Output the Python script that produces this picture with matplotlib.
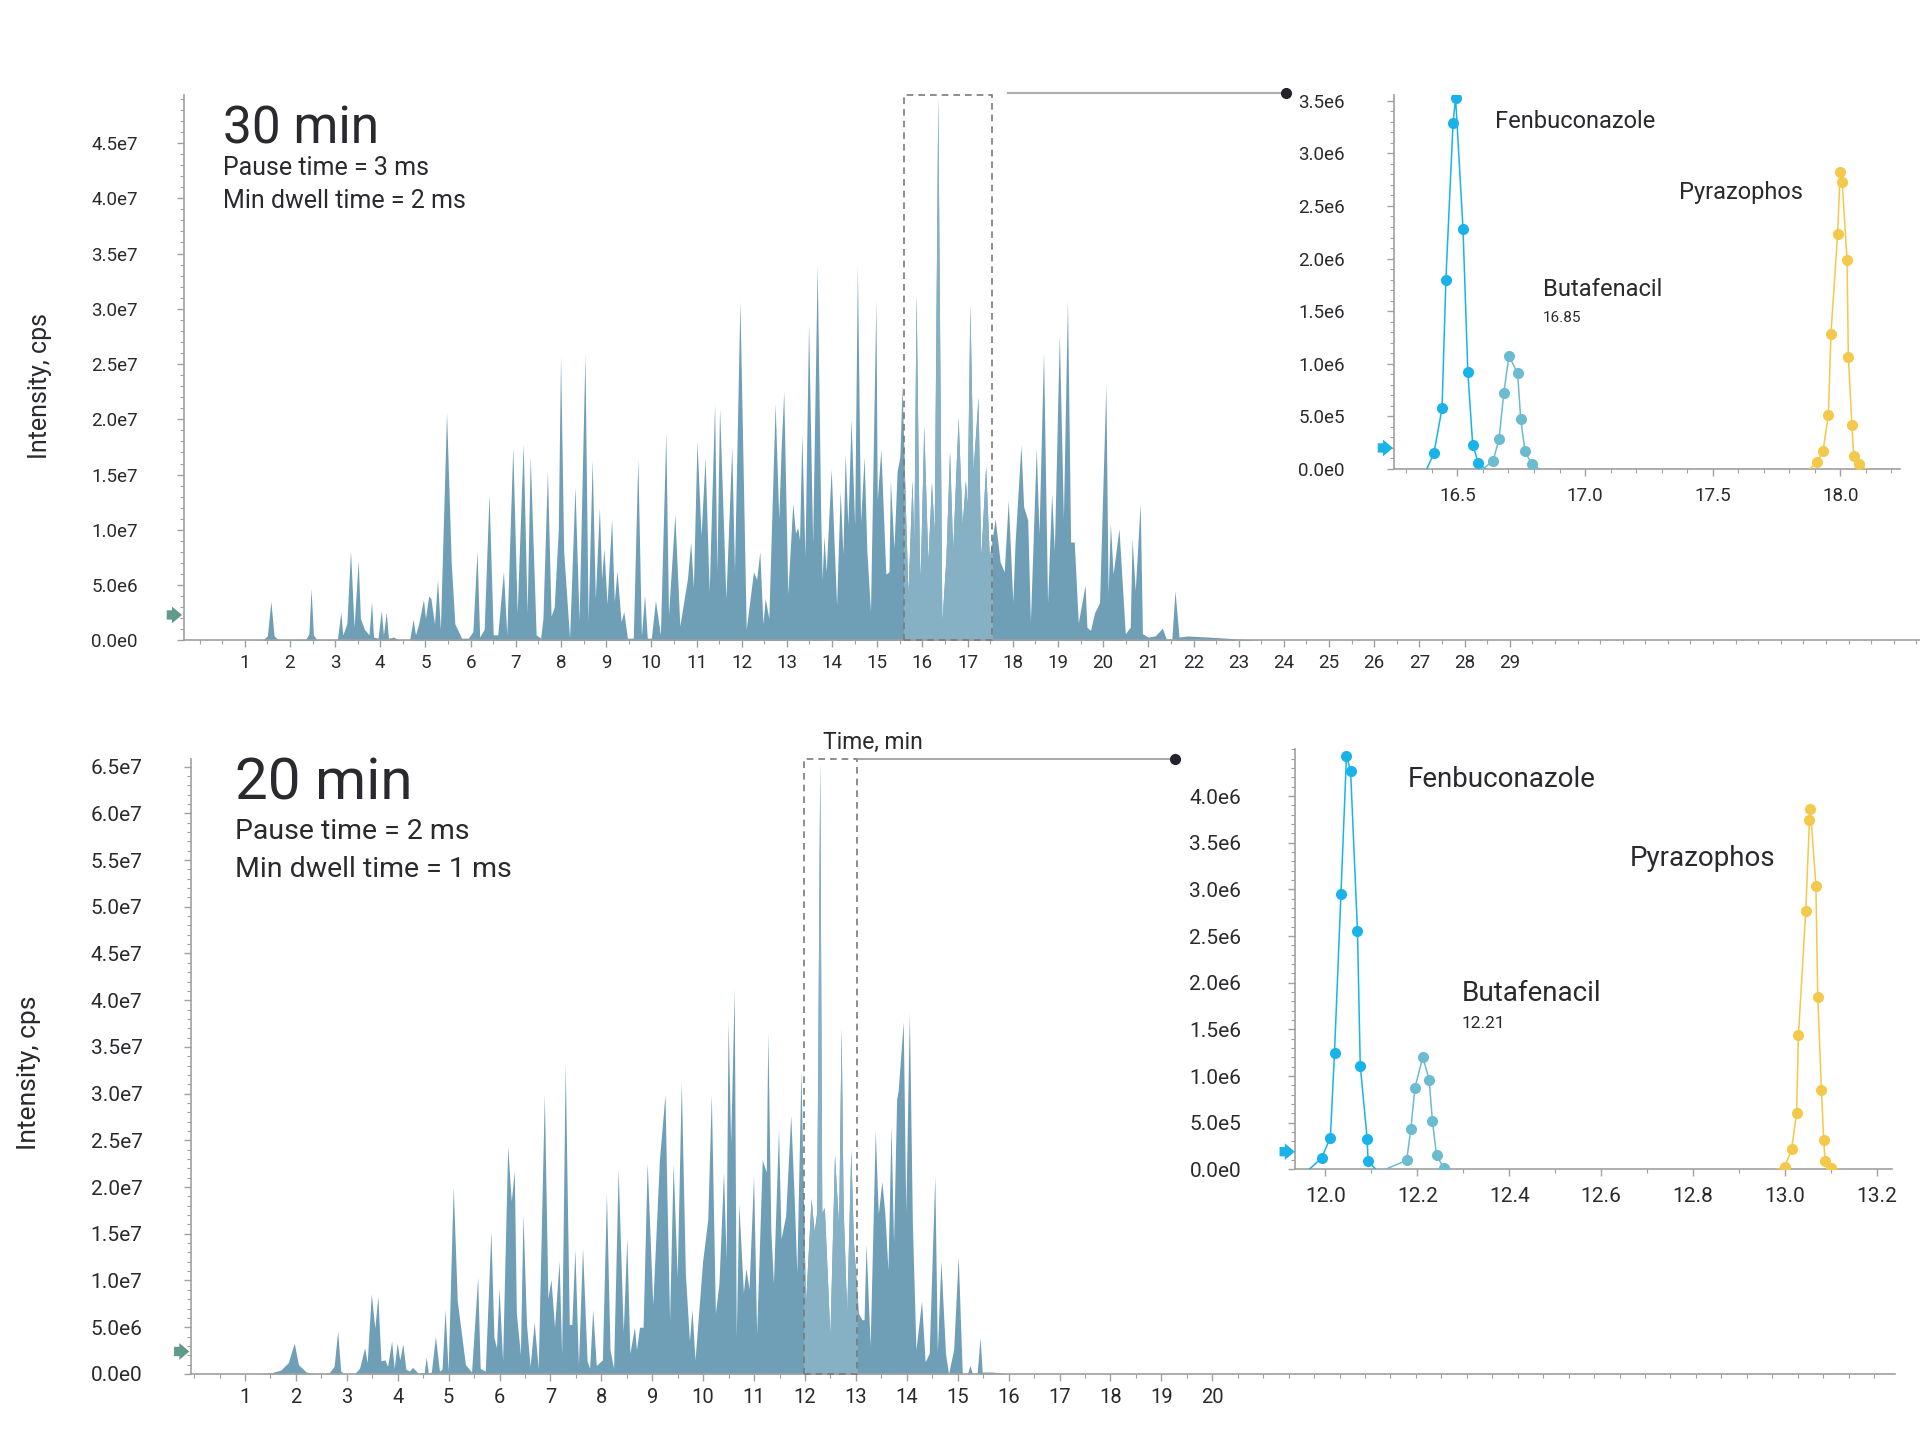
import math
import matplotlib
matplotlib.use("Agg")
import matplotlib.pyplot as plt
from matplotlib.ticker import FuncFormatter, MultipleLocator, AutoMinorLocator
from matplotlib.patches import Rectangle

# ---------------- data (intensity of main traces in units of 1e7 cps) ----------------
top_t = [-0.3, 1.0, 1.4, 1.5, 1.578, 1.65, 1.75, 2.35, 2.42, 2.467, 2.52, 2.6, 3.05, 3.126, 3.17, 3.26,
         3.341, 3.42, 3.511, 3.56, 3.65, 3.75, 3.807, 3.85, 3.95, 4.022, 4.07, 4.133, 4.18, 4.296, 4.4,
         4.65, 4.726, 4.78, 4.85, 4.956, 5.0, 5.07, 5.12, 5.2, 5.267, 5.33, 5.467, 5.57, 5.65, 5.8, 5.95,
         6.05, 6.141, 6.2, 6.3, 6.407, 6.5, 6.6, 6.726, 6.8, 6.933, 7.03, 7.163, 7.25, 7.319, 7.45, 7.55,
         7.6, 7.70, 7.78, 7.85, 7.94, 7.99, 8.06, 8.19, 8.31, 8.40, 8.53, 8.6, 8.69, 8.76, 8.85, 8.90,
         8.95, 9.02, 9.12, 9.18, 9.24, 9.33, 9.39, 9.47, 9.6, 9.70, 9.78, 9.85, 9.91, 10.0, 10.09, 10.2,
         10.32, 10.38, 10.52, 10.63, 10.80, 10.87, 10.93, 11.01, 11.10, 11.19, 11.28, 11.40, 11.45, 11.51,
         11.65, 11.78, 11.84, 11.96, 12.1, 12.26, 12.33, 12.40, 12.47, 12.52, 12.60, 12.74, 12.82, 12.87,
         12.93, 13.02, 13.13, 13.19, 13.24, 13.28, 13.33, 13.40, 13.48, 13.57, 13.67, 13.75, 13.78, 13.82,
         13.87, 13.98, 14.10, 14.18, 14.24, 14.29, 14.35, 14.42, 14.50, 14.56, 14.63, 14.71, 14.77, 14.85,
         14.97, 15.0, 15.08, 15.19, 15.26, 15.29, 15.37, 15.44, 15.50, 15.55, 15.62, 15.68, 15.77, 15.81,
         15.86, 15.93, 15.95, 16.03, 16.12, 16.20, 16.26, 16.34, 16.43, 16.52, 16.60, 16.67, 16.79, 16.88,
         16.95, 16.99, 17.05, 17.12, 17.23, 17.29, 17.40, 17.48, 17.61, 17.72, 17.81, 17.90, 18.00, 18.05,
         18.18, 18.24, 18.33, 18.39, 18.52, 18.58, 18.68, 18.77, 18.86, 18.92, 19.03, 19.12, 19.21, 19.28,
         19.36, 19.45, 19.60, 19.64, 19.72, 19.81, 19.92, 20.06, 20.11, 20.16, 20.22, 20.35, 20.49, 20.60,
         20.64, 20.71, 20.82, 20.87, 21.0, 21.15, 21.31, 21.40, 21.52, 21.59, 21.68, 21.87, 22.5, 23.5, 38.0]
top_i = [0.0, 0.0, 0.005, 0.04, 0.353, 0.04, 0.005, 0.01, 0.06, 0.468, 0.05, 0.005, 0.005, 0.255, 0.05, 0.15,
         0.81, 0.12, 0.723, 0.2, 0.1, 0.05, 0.353, 0.03, 0.02, 0.27, 0.05, 0.255, 0.02, 0.03, 0.005,
         0.005, 0.19, 0.05, 0.15, 0.37, 0.2, 0.40, 0.38, 0.15, 0.55, 0.1, 2.06, 0.71, 0.15, 0.02, 0.02,
         0.08, 0.81, 0.03, 0.1, 1.325, 0.05, 0.05, 0.625, 0.05, 1.744, 0.25, 1.777, 0.25, 1.66, 0.05, 0.02,
         0.2, 1.53, 0.22, 0.3, 1.0, 2.57, 0.8, 0.02, 1.39, 0.18, 2.59, 0.18, 1.63, 0.38, 1.2, 0.56,
         0.83, 0.33, 1.10, 0.35, 0.63, 0.17, 0.26, 0.02, 0.02, 1.64, 0.04, 0.41, 0.02, 0.02, 0.36, 0.05,
         1.88, 0.23, 1.14, 0.13, 0.56, 0.89, 0.48, 1.80, 0.95, 1.65, 0.44, 2.14, 0.62, 2.10,
         0.38, 1.75, 0.63, 3.07, 0.1, 0.62, 0.55, 0.80, 0.15, 0.38, 0.2, 2.14, 1.1, 1.71,
         2.25, 0.42, 1.24, 0.97, 1.02, 0.91, 1.87, 0.76, 2.87, 0.88, 3.39, 1.1, 0.55, 0.94,
         0.62, 1.55, 0.32, 1.35, 0.78, 1.69, 1.04, 2.00, 1.04, 3.39, 1.07, 1.66, 0.81, 0.26,
         3.08, 1.27, 1.73, 0.60, 0.62, 1.45, 0.83, 1.53, 1.66, 2.31, 1.24, 0.42, 1.45, 0.88,
         3.13, 0.81, 0.55, 1.94, 0.71, 1.43, 0.97, 4.91, 0.16, 0.75, 1.71, 0.81, 2.02, 1.04,
         1.45, 1.22, 3.03, 1.53, 2.20, 0.75, 1.58, 0.75, 1.10, 0.71, 0.62, 1.27, 0.35, 0.88,
         1.77, 1.21, 1.09, 0.17, 1.74, 0.96, 2.61, 0.34, 1.33, 0.81, 2.77, 1.10, 3.08, 0.89,
         0.89, 0.16, 0.50, 0.12, 0.09, 0.25, 0.34, 2.31, 0.42, 1.06, 0.60, 1.01, 0.06, 0.12,
         0.92, 0.45, 1.24, 0.06, 0.03, 0.04, 0.11, 0.01, 0.01, 0.45, 0.03, 0.04, 0.026, 0.0, 0.0]

bot_t = [-0.05, 1.3, 1.5, 1.7, 1.85, 1.967, 2.05, 2.2, 2.4, 2.65, 2.75, 2.82, 2.88, 2.95, 3.15, 3.25,
         3.35, 3.40, 3.48, 3.55, 3.61, 3.67, 3.75, 3.80, 3.88, 3.93, 3.99, 4.04, 4.10, 4.16, 4.23, 4.29,
         4.4, 4.52, 4.56, 4.6, 4.66, 4.74, 4.82, 4.87, 4.93, 4.99, 5.09, 5.17, 5.33, 5.45, 5.57, 5.62,
         5.72, 5.83, 5.89, 5.94, 5.99, 6.06, 6.16, 6.23, 6.29, 6.33, 6.41, 6.46, 6.53, 6.60, 6.68, 6.76,
         6.88, 6.95, 7.01, 7.08, 7.17, 7.22, 7.29, 7.37, 7.42, 7.48, 7.55, 7.63, 7.72, 7.77, 7.83, 7.90,
         8.02, 8.10, 8.17, 8.24, 8.33, 8.43, 8.50, 8.56, 8.65, 8.69, 8.75, 8.82, 8.90, 9.01, 9.14, 9.25,
         9.29, 9.34, 9.41, 9.49, 9.57, 9.65, 9.73, 9.78, 9.84, 9.99, 10.09, 10.16, 10.24, 10.31, 10.40,
         10.45, 10.49, 10.54, 10.61, 10.65, 10.70, 10.79, 10.84, 10.90, 10.99, 11.05, 11.16, 11.24, 11.27,
         11.33, 11.38, 11.48, 11.53, 11.62, 11.72, 11.79, 11.84, 11.92, 12.01, 12.12, 12.18, 12.23, 12.29,
         12.33, 12.38, 12.49, 12.58, 12.66, 12.71, 12.75, 12.82, 12.90, 12.95, 13.05, 13.12, 13.16, 13.20,
         13.28, 13.38, 13.44, 13.51, 13.57, 13.63, 13.69, 13.74, 13.80, 13.83, 13.93, 13.98, 14.05, 14.11,
         14.18, 14.29, 14.36, 14.44, 14.55, 14.60, 14.67, 14.76, 14.82, 14.92, 15.01, 15.09, 15.19, 15.24,
         15.29, 15.38, 15.44, 15.48, 15.68, 16.0, 33.5]
bot_i = [0.0, 0.0, 0.01, 0.04, 0.12, 0.33, 0.1, 0.02, 0.0, 0.01, 0.08, 0.457, 0.03, 0.0, 0.0, 0.06,
         0.28, 0.12, 0.857, 0.49, 0.83, 0.14, 0.15, 0.08, 0.35, 0.06, 0.33, 0.15, 0.32, 0.05, 0.03, 0.07,
         0.01, 0.01, 0.18, 0.01, 0.02, 0.40, 0.03, 0.05, 0.69, 0.03, 2.00, 0.78, 0.1, 0.02, 1.03, 0.06,
         0.03, 1.53, 0.39, 0.28, 0.92, 0.14, 2.44, 1.85, 2.17, 0.65, 0.21, 1.71, 0.53, 0.08, 0.55, 0.06,
         2.99, 0.81, 1.01, 0.50, 1.21, 0.21, 3.33, 0.53, 0.53, 1.33, 0.10, 1.35, 0.14, 0.06, 0.69, 0.09,
         0.15, 1.93, 0.26, 0.06, 2.19, 0.45, 1.45, 0.22, 0.50, 0.26, 0.50, 0.50, 2.26, 0.74, 2.29, 2.99,
         1.86, 0.58, 2.25, 1.04, 3.12, 1.08, 0.35, 0.69, 0.15, 1.21, 1.65, 2.99, 0.65, 0.97, 2.16,
         1.23, 3.79, 2.47, 4.13, 0.39, 1.82, 0.87, 1.13, 0.91, 2.12, 0.43, 2.29, 2.16, 3.66,
         1.52, 0.97, 2.62, 1.45, 1.69, 2.77, 1.86, 1.08, 3.25, 0.74, 1.88, 1.52, 1.73, 6.54,
         1.73, 1.78, 0.41, 2.34, 1.58, 3.70, 1.77, 0.65, 2.40, 1.43, 0.65, 0.58, 0.58, 1.39,
         0.30, 2.60, 1.71, 2.06, 1.71, 1.11, 2.66, 1.40, 2.94, 3.03, 3.77, 1.73, 3.87, 1.60,
         0.26, 0.78, 0.13, 0.22, 2.12, 0.24, 1.21, 0.22, 0.0, 0.26, 1.26, 0.0, 0.0, 0.09,
         0.0, 0.0, 0.39, 0.02, 0.02, 0.0, 0.0]

# inset traces (intensity in units of 1e6 cps)
fen30_t = [16.408, 16.440, 16.455, 16.483, 16.493, 16.522, 16.541, 16.560, 16.582]
fen30_i = [0.148, 0.578, 1.80, 3.285, 3.528, 2.284, 0.922, 0.231, 0.057]
but30_t = [16.640, 16.663, 16.682, 16.702, 16.736, 16.748, 16.765, 16.791]
but30_i = [0.079, 0.284, 0.727, 1.074, 0.910, 0.474, 0.167, 0.047]
pyr30_t = [17.910, 17.932, 17.953, 17.963, 17.989, 17.999, 18.007, 18.026, 18.031, 18.045, 18.052, 18.071]
pyr30_i = [0.069, 0.174, 0.518, 1.286, 2.230, 2.818, 2.723, 1.987, 1.064, 0.417, 0.126, 0.047]

fen20_t = [11.992, 12.011, 12.020, 12.034, 12.046, 12.055, 12.070, 12.076, 12.091, 12.093]
fen20_i = [0.125, 0.34, 1.25, 2.95, 4.43, 4.27, 2.55, 1.11, 0.33, 0.09]
but20_t = [12.177, 12.186, 12.195, 12.212, 12.226, 12.233, 12.242, 12.258]
but20_i = [0.097, 0.436, 0.876, 1.205, 0.959, 0.515, 0.150, 0.01]
pyr20_t = [12.999, 13.014, 13.025, 13.029, 13.045, 13.053, 13.055, 13.067, 13.071, 13.079, 13.084, 13.087, 13.100]
pyr20_i = [0.025, 0.215, 0.601, 1.438, 2.773, 3.746, 3.857, 3.041, 1.850, 0.852, 0.315, 0.089, 0.01]

top_xlabels = list(range(1, 30))
bot_xlabels = list(range(1, 21))
compounds = ["Fenbuconazole", "Butafenacil", "Pyrazophos"]

# ---------------- style ----------------
NARROW = ["Roboto", "DejaVu Sans"]
MAINF = ["Roboto", "DejaVu Sans"]
FILL = "#6f9fb6"
FILL_HL = "#86b1c4"
SPINE = "#a0a0a0"
TXT = "#2a2a2e"
ARROW_G = "#5f9a8c"
C_FEN = "#19b3ea"
C_BUT = "#6bbcd0"
C_PYR = "#f4c84a"


def sci(v, pos=None):
    if abs(v) < 1e-9:
        return "0.0e0"
    e = int(math.floor(math.log10(abs(v)) + 1e-9))
    return f"{v / 10 ** e:.1f}e{e}"


fig = plt.figure(figsize=(19.2, 14.4), dpi=100)


def style_axis(ax, fs, ypad, xpad):
    for s in ("top", "right"):
        ax.spines[s].set_visible(False)
    for s in ("left", "bottom"):
        ax.spines[s].set_color(SPINE)
        ax.spines[s].set_linewidth(1.2)
    ax.tick_params(axis="both", which="major", direction="out", length=5, width=1, color=SPINE,
                   labelcolor=TXT)
    ax.tick_params(axis="both", which="minor", direction="out", length=3, width=0.8, color=SPINE)
    ax.tick_params(axis="y", pad=ypad)
    ax.tick_params(axis="x", pad=xpad)
    for lab in ax.get_xticklabels() + ax.get_yticklabels():
        lab.set_family(NARROW)
        lab.set_fontsize(fs)
    ax.set_facecolor("none")


def add_arrow(ax, yval, color, size):
    ax.annotate("", xy=(-0.001, yval), xycoords=ax.get_yaxis_transform(),
                xytext=(-size, 0), textcoords="offset points",
                arrowprops=dict(arrowstyle="simple,head_length=0.45,head_width=0.75,tail_width=0.42",
                                mutation_scale=16, color=color, lw=0, shrinkA=0, shrinkB=0),
                annotation_clip=False)


def main_panel(rect, t, i, xmax, ytop, yticks_max, labels, hl, xlab_fs, ylab_fs, ypad):
    ax = fig.add_axes(rect)
    y = [v * 1e7 for v in i]
    ax.fill_between(t, y, 0, color=FILL, lw=0)
    hi = ax.fill_between(t, y, 0, color=FILL_HL, lw=0)
    clip = Rectangle((hl[0], 0), hl[1] - hl[0], ytop, transform=ax.transData)
    hi.set_clip_path(clip)
    ax.add_patch(Rectangle((hl[0], 0), hl[1] - hl[0], ytop, fill=False, ls=(0, (4, 3)),
                           lw=1.2, ec="#7a7a7a", clip_on=False, zorder=5))
    ax.set_xlim(xmax[0], xmax[1])
    ax.set_ylim(0, ytop)
    ax.set_xticks(labels)
    ax.set_xticklabels([str(v) for v in labels])
    ax.xaxis.set_minor_locator(MultipleLocator(0.5))
    ax.set_yticks([k * 5e6 for k in range(int(round(yticks_max / 5e6)) + 1)])
    ax.yaxis.set_major_formatter(FuncFormatter(sci))
    ax.yaxis.set_minor_locator(AutoMinorLocator(5))
    style_axis(ax, ylab_fs, ypad, 5)
    for lab in ax.get_xticklabels():
        lab.set_fontsize(xlab_fs)
    return ax


ax1 = main_panel([0.0957, 0.5553, 0.9043, 0.3784], top_t, top_i, (-0.35, 38.08), 4.93e7, 4.5e7,
                 top_xlabels, (15.6, 17.55), 13.5, 13.5, 28)
ax2 = main_panel([0.0995, 0.0459, 0.8877, 0.4269], bot_t, bot_i, (-0.06, 33.42), 6.58e7, 6.5e7,
                 bot_xlabels, (11.98, 13.03), 14.5, 15, 30)
add_arrow(ax1, 2.3e6, ARROW_G, 11)
add_arrow(ax2, 2.4e6, ARROW_G, 11)


def inset(rect, xlim, ytop, series, xmaj, xminor, ymaj, ypad, fs):
    ax = fig.add_axes(rect)
    for (tt, ii, col, t0, t1) in series:
        xs = [t0] + tt + [t1]
        ys = [0.0] + [v * 1e6 for v in ii] + [0.0]
        ax.plot(xs, ys, color=col, lw=1.1, zorder=3)
        ax.plot(tt, [v * 1e6 for v in ii], "o", color=col, ms=8, mec="none", zorder=4)
    ax.set_xlim(*xlim)
    ax.set_ylim(0, ytop)
    ax.set_xticks(xmaj)
    ax.set_xticklabels([f"{v:.1f}" for v in xmaj])
    ax.xaxis.set_minor_locator(MultipleLocator(xminor))
    ax.set_yticks(ymaj)
    ax.yaxis.set_major_formatter(FuncFormatter(sci))
    ax.yaxis.set_minor_locator(AutoMinorLocator(5))
    style_axis(ax, fs, ypad, 8)
    return ax


ins1 = inset([0.7258, 0.6743, 0.2640, 0.2594], (16.25, 18.235), 3.55e6,
             [(fen30_t, fen30_i, C_FEN, 16.38, 16.61), (but30_t, but30_i, C_BUT, 16.60, 16.82),
              (pyr30_t, pyr30_i, C_PYR, 17.88, 18.10)],
             [16.5, 17.0, 17.5, 18.0], 0.1, [k * 5e5 for k in range(8)], 30, 13.5)
ins2 = inset([0.6747, 0.1879, 0.3106, 0.2917], (11.935, 13.232), 4.5e6,
             [(fen20_t, fen20_i, C_FEN, 11.965, 12.11), (but20_t, but20_i, C_BUT, 12.13, 12.27),
              (pyr20_t, pyr20_i, C_PYR, 12.98, 13.12)],
             [12.0, 12.2, 12.4, 12.6, 12.8, 13.0, 13.2], 0.1, [k * 5e5 for k in range(9)], 34, 15)
add_arrow(ins1, 2.0e5, C_FEN, 11)
add_arrow(ins2, 1.9e5, C_FEN, 11)

# compound labels
ins1.text(16.648, 3.24e6, compounds[0], family=NARROW, fontsize=17, color=TXT)
ins1.text(16.835, 1.64e6, compounds[1], family=NARROW, fontsize=17, color=TXT)
ins1.text(16.835, 1.40e6, "16.85", family=NARROW, fontsize=11, color=TXT)
ins1.text(17.367, 2.57e6, compounds[2], family=NARROW, fontsize=17, color=TXT)
ins2.text(12.18, 4.1e6, compounds[0], family=NARROW, fontsize=20, color=TXT)
ins2.text(12.297, 1.80e6, compounds[1], family=NARROW, fontsize=20, color=TXT)
ins2.text(12.297, 1.52e6, "12.21", family=NARROW, fontsize=12.5, color=TXT)
ins2.text(12.662, 3.25e6, compounds[2], family=NARROW, fontsize=20, color=TXT)

# titles
fig.text(0.116, 0.9005, "30 min", family=MAINF, fontsize=37, color=TXT)
fig.text(0.116, 0.8784, "Pause time = 3 ms", family=MAINF, fontsize=18, color=TXT)
fig.text(0.116, 0.8554, "Min dwell time = 2 ms", family=MAINF, fontsize=18, color=TXT)
fig.text(0.1224, 0.4447, "20 min", family=MAINF, fontsize=42, color=TXT)
fig.text(0.1224, 0.4175, "Pause time = 2 ms", family=MAINF, fontsize=20.5, color=TXT)
fig.text(0.1224, 0.3912, "Min dwell time = 1 ms", family=MAINF, fontsize=20.5, color=TXT)

fig.text(0.021, 0.732, "Intensity, cps", family=MAINF, fontsize=18, color=TXT,
         rotation=90, ha="center", va="center")
fig.text(0.0153, 0.255, "Intensity, cps", family=MAINF, fontsize=19, color=TXT,
         rotation=90, ha="center", va="center")
fig.text(0.4547, 0.4796, "Time, min", family=MAINF, fontsize=16.5, color=TXT, ha="center")

# connector lines with end dots
fig.add_artist(plt.Line2D([0.5249, 0.6696], [0.9354, 0.9354], color="#b0b0b0", lw=1.6,
                          transform=fig.transFigure))
fig.add_artist(plt.Line2D([0.6696], [0.9354], marker="o", ms=7, color="#23232e",
                          transform=fig.transFigure))
fig.add_artist(plt.Line2D([0.4464, 0.6122], [0.4728, 0.4728], color="#909090", lw=1.1,
                          transform=fig.transFigure))
fig.add_artist(plt.Line2D([0.6122], [0.4728], marker="o", ms=7, color="#23232e",
                          transform=fig.transFigure))

fig.savefig("out.png", dpi=100, facecolor="white")
